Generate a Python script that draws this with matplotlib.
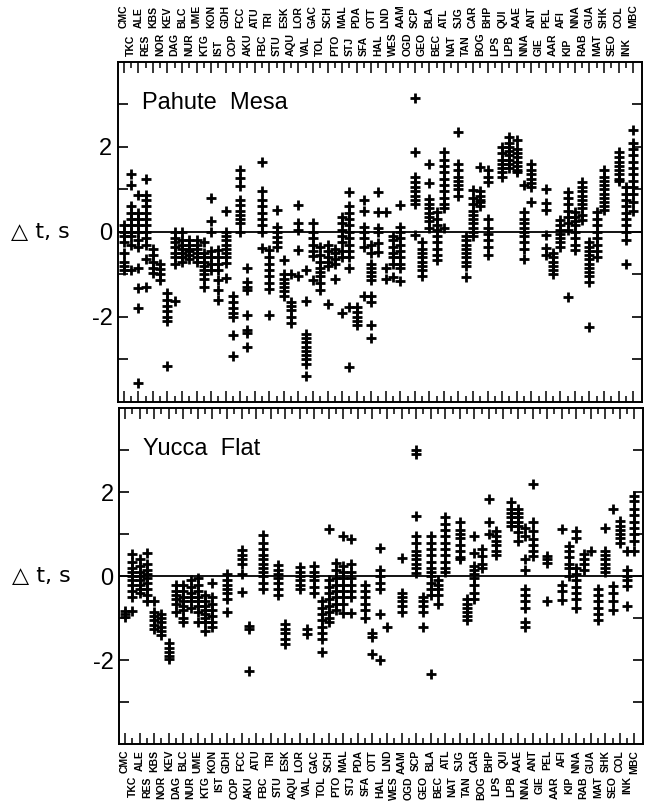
import matplotlib
matplotlib.use("Agg")
import matplotlib.pyplot as plt
import numpy as np

plt.rcParams["font.family"] = ["Liberation Sans", "DejaVu Sans"]

stations = [
    "CMC", "TKC", "ALE", "RES", "KBS", "NOR", "KEV", "DAG", "BLC", "NUR",
    "UME", "KTG", "KON", "IST", "GDH", "COP", "FCC", "AKU", "ATU", "FBC",
    "TRI", "STU", "ESK", "AQU", "LOR", "VAL", "GAC", "TOL", "SCH", "PTO",
    "MAL", "STJ", "PDA", "SFA", "OTT", "HAL", "LND", "WES", "AAM", "OGD",
    "SCP", "GEO", "BLA", "BEC", "ATL", "NAT", "SJG", "TAN", "CAR", "BOG",
    "BHP", "LPS", "QUI", "LPB", "AAE", "NNA", "ANT", "GIE", "PEL", "AAR",
    "AFI", "KIP", "NNA", "RAB", "GUA", "MAT", "SHK", "SEO", "COL", "INK",
    "MBC",
]

# travel-time residuals (s) per station, Pahute Mesa events
pahute_dt = [
    [0.15, 0.0, -0.1, -0.25, -0.5, -0.7, -0.8, -0.9],
    [1.35, 1.1, 0.6, 0.45, 0.3, 0.15, 0.0, -0.1, -0.3, -0.9],
    [0.87, 0.45, 0.3, 0.15, 0.0, -0.2, -0.35, -0.85, -1.33, -1.8, -3.55],
    [1.25, 0.87, 0.75, 0.6, 0.45, 0.3, 0.15, 0.0, -0.15, -0.3, -0.65, -1.3],
    [-0.4, -0.55, -0.7, -0.85, -0.97],
    [-0.75, -0.88, -1.0, -1.13],
    [-1.45, -1.6, -1.75, -1.87, -2.0, -2.1, -3.15],
    [0.0, -0.15, -0.25, -0.35, -0.5, -0.6, -0.75, -1.64],
    [0.0, -0.2, -0.3, -0.4, -0.5, -0.6, -0.7],
    [-0.2, -0.3, -0.4, -0.45, -0.55, -0.65],
    [-0.2, -0.3, -0.4, -0.5, -0.6, -0.7],
    [-0.23, -0.5, -0.6, -0.7, -0.8, -0.9, -1.0, -1.1, -1.29],
    [0.8, 0.25, 0.0, -0.45, -0.6, -0.75, -0.9],
    [-0.42, -0.6, -0.75, -0.9, -1.13, -1.36, -1.6],
    [0.48, 0.0, -0.1, -0.2, -0.3, -0.4, -0.5, -0.6, -0.74, -1.09],
    [-1.52, -1.65, -1.8, -1.9, -2.0, -2.42, -2.93],
    [1.46, 1.26, 1.07, 0.75, 0.62, 0.5, 0.4, 0.3, 0.2, 0.0],
    [-0.85, -1.17, -1.29, -1.36, -1.95, -2.3, -2.38, -2.7],
    [],
    [1.65, 0.95, 0.75, 0.6, 0.45, 0.3, 0.15, 0.0, -0.38],
    [-0.42, -0.6, -0.75, -0.9, -1.05, -1.2, -1.35, -1.95],
    [0.52, 0.12, 0.0, -0.12, -0.25, -0.35],
    [-0.66, -1.0, -1.1, -1.2, -1.3, -1.4, -1.52],
    [-1.0, -1.65, -1.75, -1.85, -2.0, -2.15],
    [0.64, 0.2, 0.05, -0.42, -1.05],
    [-0.9, -1.64, -2.4, -2.5, -2.6, -2.7, -2.8, -2.9, -3.0, -3.1, -3.4],
    [0.2, 0.0, -0.15, -0.3, -0.45, -0.58, -1.13],
    [-0.35, -0.55, -0.7, -0.85, -0.95, -1.05, -1.2, -1.36],
    [-0.3, -0.45, -0.6, -0.7, -0.8, -1.7],
    [-0.4, -0.5, -0.65, -0.75, -1.1],
    [0.35, 0.2, 0.05, -0.1, -0.25, -0.45, -0.6, -1.9],
    [0.94, 0.6, 0.45, 0.3, 0.15, 0.0, -0.15, -0.3, -0.45, -0.6, -0.85, -1.76, -3.18],
    [-1.76, -1.88, -2.0, -2.1, -2.2],
    [0.75, 0.5, 0.12, 0.0, -0.15, -0.35, -1.5],
    [-0.3, -0.5, -0.75, -0.85, -0.95, -1.05, -1.14, -1.5, -1.65, -2.2, -2.5],
    [0.94, 0.47, 0.08, 0.0, -0.27, -0.47],
    [0.47, -0.86, -1.1],
    [-0.1, -0.2, -0.35, -0.5, -0.6, -0.75, -1.06],
    [0.63, 0.12, 0.0, -0.15, -0.3, -0.45, -0.6, -0.75, -0.85, -1.15],
    [],
    [3.14, 1.88, 1.29, 1.18, 1.05, 0.95, 0.85, 0.75, 0.65, -0.08],
    [-0.25, -0.4, -0.5, -0.6, -0.7, -0.8, -0.9, -1.05],
    [1.6, 1.14, 0.78, 0.65, 0.55, 0.45, 0.35, 0.25, 0.1],
    [0.47, 0.3, 0.15, 0.05, -0.1, -0.25, -0.4, -0.55, -0.67],
    [1.88, 1.7, 1.55, 1.4, 1.25, 1.1, 0.95, 0.8, 0.65, 0.55, 0.1],
    [],
    [2.35, 1.6, 1.45, 1.3, 1.2, 1.1, 1.0, 0.85],
    [-0.1, -0.2, -0.3, -0.4, -0.5, -0.6, -0.7, -0.8, -1.06],
    [0.98, 0.8, 0.65, 0.5, 0.4, 0.3, 0.2, 0.1, 0.0, -0.1],
    [1.53, 0.95, 0.85, 0.75, 0.7, 0.6],
    [1.45, 1.3, 1.18, 0.3, 0.1, -0.05, -0.2, -0.35, -0.55],
    [],
    [2.0, 1.85, 1.7, 1.6, 1.5, 1.4, 1.3],
    [2.24, 2.1, 2.0, 1.9, 1.8, 1.7, 1.6, 1.5],
    [2.15, 1.95, 1.85, 1.75, 1.65, 1.55, 1.45, 1.4],
    [1.1, 0.47, 0.3, 0.2, 0.1, 0.0, -0.1, -0.25, -0.4, -0.65],
    [1.6, 1.45, 1.35, 1.25, 1.15, 1.05, 0.7],
    [],
    [1.0, 0.67, 0.51, -0.07, -0.39, -0.55],
    [-0.5, -0.6, -0.7, -0.8, -0.9, -1.0],
    [0.27, 0.15, 0.05, -0.05, -0.15, -0.25, -0.35],
    [0.94, 0.8, 0.65, 0.5, 0.35, 0.2, 0.04, -1.53],
    [0.47, 0.35, 0.25, 0.15, 0.0, -0.15, -0.3, -0.43],
    [1.18, 1.05, 0.95, 0.85, 0.75, 0.65, 0.55, 0.4, 0.27],
    [-0.24, -0.35, -0.45, -0.55, -0.65, -0.75, -0.85, -0.95, -1.05, -1.18, -2.24],
    [0.47, 0.3, 0.15, 0.0, -0.15, -0.3, -0.45, -0.59],
    [1.45, 1.3, 1.2, 1.1, 1.0, 0.9, 0.8, 0.7, 0.6, 0.51],
    [],
    [1.88, 1.75, 1.65, 1.55, 1.45, 1.35, 1.25, 1.2],
    [1.06, 0.9, 0.75, 0.6, 0.45, 0.3, 0.15, 0.0, -0.2, -0.75],
    [2.4, 2.1, 1.95, 1.8, 1.65, 1.5, 1.35, 1.2, 1.05, 0.9, 0.7, 0.5],
]

# travel-time residuals (s) per station, Yucca Flat events
yucca_dt = [
    [-0.82, -0.9, -0.98],
    [0.54, 0.35, 0.2, 0.1, 0.0, -0.1, -0.2, -0.35, -0.5, -0.82],
    [0.4, 0.25, 0.1, 0.0, -0.1, -0.2, -0.3, -0.4],
    [0.56, 0.3, 0.15, 0.05, -0.05, -0.15, -0.3, -0.45, -0.6],
    [-0.6, -0.85, -0.95, -1.05, -1.15, -1.26],
    [-0.9, -1.0, -1.1, -1.2, -1.3, -1.4],
    [-1.6, -1.7, -1.8, -1.9, -1.98],
    [-0.2, -0.35, -0.45, -0.55, -0.65, -0.85],
    [-0.2, -0.35, -0.5, -0.6, -0.7, -0.8, -1.0, -1.1],
    [-0.1, -0.25, -0.4, -0.5, -0.6, -0.75],
    [-0.05, -0.2, -0.35, -0.5, -0.6, -0.7, -0.85, -1.1],
    [-0.45, -0.6, -0.7, -0.8, -0.9, -1.0, -1.1, -1.3],
    [-0.15, -0.5, -0.65, -0.8, -0.95, -1.1, -1.2],
    [],
    [0.05, -0.1, -0.2, -0.3, -0.4, -0.55, -0.85],
    [],
    [0.62, 0.5, 0.4, 0.3, 0.05, -0.38],
    [-1.18, -1.26, -2.26],
    [],
    [0.98, 0.8, 0.65, 0.5, 0.4, 0.3, 0.2, 0.1, 0.0, -0.15, -0.3],
    [],
    [0.26, 0.15, 0.05, -0.05, -0.15, -0.3, -0.45],
    [-1.14, -1.25, -1.35, -1.5, -1.62],
    [],
    [0.22, 0.1, 0.0, -0.1, -0.2, -0.3],
    [-1.26, -1.38],
    [0.25, 0.1, 0.0, -0.1, -0.25, -0.4],
    [-0.6, -0.75, -0.9, -1.05, -1.2, -1.35, -1.5, -1.8],
    [1.12, -0.1, -0.25, -0.4, -0.55, -0.7, -0.85, -1.0, -1.08],
    [0.32, 0.15, -0.05, -0.2, -0.35, -0.5, -0.65, -0.8],
    [0.96, 0.24, 0.1, -0.05, -0.2, -0.35, -0.5, -0.65, -0.88],
    [0.88, 0.28, 0.1, -0.05, -0.2, -0.35, -0.5, -0.88],
    [],
    [-0.2, -0.35, -0.5, -0.65, -0.8, -1.0],
    [-1.36, -1.45, -1.84],
    [0.68, 0.15, 0.0, -0.15, -0.3, -0.9, -2.0],
    [-1.2],
    [],
    [0.44, -0.4, -0.5, -0.6, -0.7, -0.85],
    [],
    [3.0, 2.9, 1.44, 0.96, 0.8, 0.6, 0.5, 0.4, 0.3, 0.2, 0.08],
    [-0.5, -0.6, -0.7, -0.85, -1.2],
    [0.96, 0.8, 0.65, 0.5, 0.35, 0.2, 0.1, 0.0, -0.15, -0.3, -0.45, -2.32],
    [-0.1, -0.2, -0.3, -0.45, -0.65],
    [1.4, 1.25, 1.1, 0.95, 0.8, 0.65, 0.5, 0.35, 0.2, 0.1],
    [],
    [1.28, 1.1, 1.0, 0.9, 0.75, 0.6, 0.45, 0.4],
    [-0.55, -0.65, -0.75, -0.85, -0.95, -1.05],
    [0.96, 0.55, 0.25, 0.15, 0.05, -0.05, -0.2, -0.4, -0.55],
    [0.64, 0.48, 0.3, 0.2],
    [1.84, 1.28, 1.0],
    [1.08, 0.95, 0.85, 0.75, 0.6, 0.5],
    [],
    [1.76, 1.6, 1.5, 1.4, 1.3, 1.2],
    [1.6, 1.5, 1.4, 1.3, 1.2, 1.05, 0.85],
    [1.16, 0.96, 0.4, 0.16, -0.3, -0.45, -0.6, -0.75, -1.1, -1.2],
    [2.2, 1.28, 1.08, 0.88, 0.75, 0.6, 0.48],
    [],
    [0.48, 0.4, 0.32, -0.6],
    [],
    [1.12, -0.2, -0.35, -0.56],
    [0.72, 0.6, 0.45, 0.3, 0.2, 0.0],
    [1.08, 0.9, 0.2, 0.05, -0.1, -0.25, -0.4, -0.55, -0.76],
    [0.52, 0.4, 0.28, 0.15],
    [0.6],
    [-0.3, -0.45, -0.6, -0.75, -0.9, -1.05],
    [1.16, 0.6, 0.5, 0.4, 0.3, 0.2, 0.1],
    [1.6, -0.24, -0.4, -0.6, -0.8],
    [1.32, 1.2, 1.1, 1.0, 0.9, 0.8],
    [0.6, 0.16, 0.0, -0.1, -0.24, -0.72],
    [1.92, 1.8, 1.6, 1.45, 1.3, 1.15, 1.0, 0.85, 0.6],
]

y_ticks = [-3, -2, -1, 0, 1, 2, 3]
y_ticklabels = ["", "-2", "", "0", "", "2", ""]


def draw_panel(ax, dt, title, labels_on_top):
    n = len(stations)
    xs = np.repeat(np.arange(n), [len(v) for v in dt])
    ys = np.concatenate([np.asarray(v, dtype=float) for v in dt])
    ax.plot(xs, ys, "+", color="black", markersize=6.5, markeredgewidth=2.0)
    ax.axhline(0, color="black", linewidth=1.3)

    ax.set_xlim(-0.8, n - 1 + 1.2)
    ax.set_ylim(-4, 4)

    ax.set_yticks(y_ticks)
    ax.set_yticklabels(y_ticklabels, fontsize=17)
    ax.tick_params(axis="y", which="major", direction="in", length=7, width=1.2,
                   left=True, right=True, pad=4)

    ax.set_xticks(np.arange(0, n, 2))
    ax.set_xticks(np.arange(1, n, 2), minor=True)
    ax.tick_params(axis="x", which="major", direction="in", length=8, width=1.1,
                   top=True, bottom=True, labelbottom=False, labeltop=False)
    ax.tick_params(axis="x", which="minor", direction="in", length=4, width=1.1,
                   top=True, bottom=True)
    for sp in ax.spines.values():
        sp.set_linewidth(1.4)

    ax.text(0.045, 0.86, title, transform=ax.transAxes, fontsize=17,
            ha="left", va="baseline")
    ax.text(-0.205, 0, "\u25b3 t, s", transform=ax.get_yaxis_transform(),
            fontsize=16, ha="left", va="center", family=["DejaVu Sans"])

    # station codes, two staggered rows
    for i, name in enumerate(stations):
        if labels_on_top:
            off = 24 if i % 2 == 0 else 4
            ax.annotate(name, xy=(i, 1), xycoords=("data", "axes fraction"),
                        xytext=(0, off), textcoords="offset points",
                        rotation=90, ha="center", va="bottom",
                        fontsize=7.5, fontweight="bold")
        else:
            off = 4 if i % 2 == 0 else 23
            ax.annotate(name, xy=(i, 0), xycoords=("data", "axes fraction"),
                        xytext=(0, -off), textcoords="offset points",
                        rotation=90, ha="center", va="top",
                        fontsize=7.5, fontweight="bold")


fig = plt.figure(figsize=(6.59, 8.02), dpi=100)
ax_top = fig.add_axes([0.179, 0.499, 0.795, 0.424])
ax_bot = fig.add_axes([0.181, 0.072, 0.795, 0.419])

draw_panel(ax_top, pahute_dt, "Pahute  Mesa", True)
draw_panel(ax_bot, yucca_dt, "Yucca  Flat", False)

fig.savefig("out.png", dpi=100)
